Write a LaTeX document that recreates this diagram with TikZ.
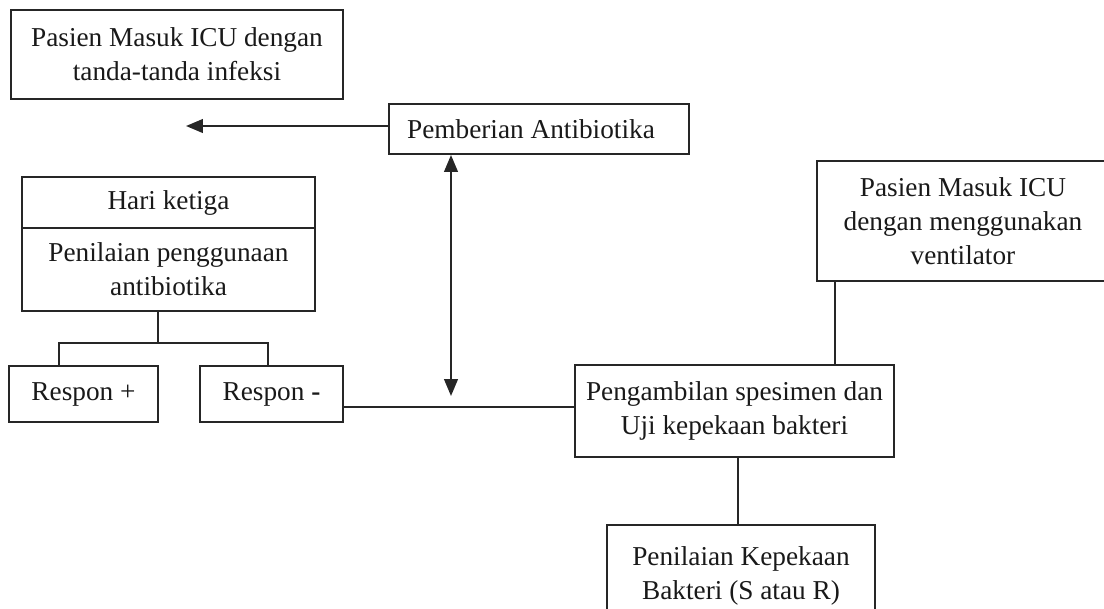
\documentclass[tikz,border=0pt]{standalone}
\usepackage{fontspec}
\setmainfont{Liberation Serif}
\usepackage{tikz}
\usetikzlibrary{calc,arrows.meta}
\def\unit{0.025cm}
\tikzstyle{arrow} = [line width=1.4pt,-{Triangle[length=0.42cm,width=0.34cm]}]

\begin{document}
\begin{tikzpicture}[x=\unit,y=-\unit,line width=1.4pt]
    \tikzstyle{box}=[draw=black!85,rectangle,inner sep=0pt,align=center,
        font=\fontsize{19.4}{24.4}\selectfont,text=black!90]
    \tikzstyle{link}=[draw=black!85,line width=1.4pt]
    \tikzstyle{both}=[link,{Triangle[length=0.42cm,width=0.34cm]}-{Triangle[length=0.42cm,width=0.34cm]}]

    \useasboundingbox (0,0) rectangle (1104,608);
    \clip (0,0) rectangle (1104,608);

    % left column
    \path node[box,minimum width=332*\unit,minimum height=89*\unit] (infeksi) at (177,54.5)
        {Pasien Masuk ICU dengan\\tanda-tanda infeksi};
    \path node[box,minimum width=293*\unit,minimum height=51*\unit] (hari) at (168.5,202.5)
        {Hari ketiga};
    \path node[box,minimum width=293*\unit,minimum height=83*\unit] (penilaian) at (168.5,269.5)
        {Penilaian penggunaan\\antibiotika};
    \path node[box,minimum width=149*\unit,minimum height=56*\unit] (resplus) at (83.5,394)
        {Respon +};
    \path node[box,minimum width=143*\unit,minimum height=56*\unit] (resminus) at (271.5,394)
        {Respon \textbf{-}};

    % middle and right
    \path node[box,minimum width=300*\unit,minimum height=50*\unit] (pemberian) at (539,129)
        {\hspace*{-0.4cm}Pemberian Antibiotika};
    \path node[box,minimum width=292*\unit,minimum height=120*\unit] (ventilator) at (963,221)
        {Pasien Masuk ICU\\dengan menggunakan\\ventilator};
    \path node[box,minimum width=319*\unit,minimum height=92*\unit] (pengambilan) at (734.5,411)
        {Pengambilan spesimen dan\\Uji kepekaan bakteri};
    \path node[box,minimum width=268*\unit,minimum height=102*\unit] (kepekaan) at (741,576)
        {Penilaian Kepekaan\\Bakteri (S atau R)};

    % helper points
    \coordinate (tip) at (186,126);
    \coordinate (mid) at (451,396);
    \coordinate (fork) at (158,343);
    \coordinate (forkL) at (59,343);
    \coordinate (forkR) at (268,343);
    \coordinate (vent) at (835,0);
    \coordinate (down) at (738,0);

    % connectors
    \draw[link] ($(infeksi.south)+(-5,0)$) -- ($(infeksi.south)+(-5,0)$ |- hari.north);
    \draw[arrow,draw=black!85,fill=black!85] (pemberian.west |- tip) -- (tip);
    \draw[both,fill=black!85] (mid |- pemberian.south) -- (mid);
    \draw[link] (fork |- penilaian.south) -- (fork);
    \draw[link] (forkL |- resplus.north) -- (forkL) -- (forkR) -- (forkR |- resminus.north);
    \draw[link] (resminus.east |- 0,407) -- (pengambilan.west |- 0,407);
    \draw[link] (vent |- ventilator.south) -- (vent |- pengambilan.north);
    \draw[link] (down |- pengambilan.south) -- (down |- kepekaan.north);
\end{tikzpicture}
\end{document}
